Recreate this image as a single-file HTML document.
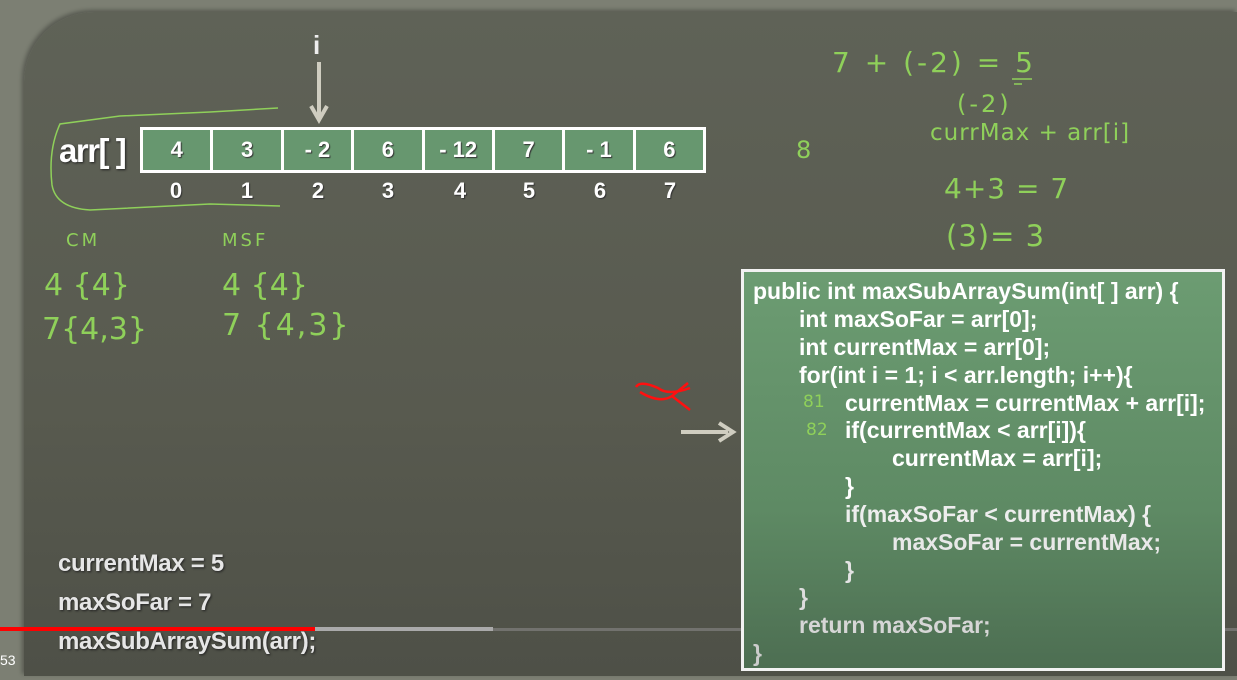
<!DOCTYPE html>
<html><head><meta charset="utf-8"><style>
html,body{margin:0;padding:0}
body{width:1237px;height:680px;overflow:hidden;background:#7c7f73;position:relative;font-family:"Liberation Sans",sans-serif}
#panel{position:absolute;left:24px;top:12px;width:1213px;height:664px;border-top-left-radius:70px;background:linear-gradient(180deg,#5f6257 0%,#585a4f 60%,#4e5047 100%);box-shadow:-2px -2px 4px rgba(0,0,0,.3)}
.t{position:absolute;color:#fff;font-weight:bold;white-space:nowrap}
.arr{position:absolute;left:140px;top:127px;width:566px;height:46px;background:#fff;display:flex;padding:3px;box-sizing:border-box;gap:3px}
.arr div{flex:1;background:#67976f;color:#fff;font-weight:bold;font-size:22px;display:flex;align-items:center;justify-content:center;text-shadow:1px 1px 1px #333}
.idx{position:absolute;top:178px;color:#fff;font-weight:bold;font-size:22px;width:40px;text-align:center;text-shadow:1px 1px 1px #333}
#code{position:absolute;left:741px;top:269px;width:484px;height:402px;box-sizing:border-box;border:3px solid #f2f2f2;background:linear-gradient(180deg,#6c9c72 0%,#5e8a64 60%,#4d6e52 100%)}
.c{position:absolute;color:#fff;font-weight:bold;font-size:23px;white-space:nowrap;line-height:26px}
.bl{position:absolute;left:58px;color:#e6e6e6;font-weight:bold;font-size:24px;letter-spacing:-0.3px;text-shadow:1px 1px 2px #222}
.hw{position:absolute;color:#8fd05a;font-family:"DejaVu Sans",sans-serif;font-weight:normal;white-space:nowrap}
</style></head><body>
<div id="panel"></div>
<div class="t" style="left:59px;top:132px;font-size:33px;letter-spacing:-1.5px;text-shadow:1px 1px 2px #222">arr[ ]</div>
<div class="arr"><div>4</div><div>3</div><div>- 2</div><div>6</div><div>- 12</div><div>7</div><div>- 1</div><div>6</div></div>
<div class="idx" style="left:156px">0</div><div class="idx" style="left:227px">1</div><div class="idx" style="left:298px">2</div><div class="idx" style="left:368px">3</div><div class="idx" style="left:440px">4</div><div class="idx" style="left:509px">5</div><div class="idx" style="left:580px">6</div><div class="idx" style="left:650px">7</div>
<div class="t" style="left:313px;top:30px;font-size:26px;color:#eee">i</div>
<svg width="1237" height="680" style="position:absolute;left:0;top:0">
<line x1="319" y1="62" x2="319" y2="118" stroke="#cfcdc0" stroke-width="4"/>
<path d="M311 106 L319 120 L327 106" fill="none" stroke="#cfcdc0" stroke-width="4"/>
<line x1="681" y1="432" x2="728" y2="432" stroke="#cfcdc0" stroke-width="4"/>
<path d="M719 423 L733 432 L719 441" fill="none" stroke="#cfcdc0" stroke-width="4"/>
<path d="M278 108 L210 112 L120 116 L60 124 Q48 150 52 185 Q56 208 90 210 L210 204 L280 206" fill="none" stroke="#8fd05a" stroke-width="1.5"/>
<path d="M636 387 Q640 380 658 388 Q668 396 690 388 M640 392 Q660 404 672 396 L690 410 M672 396 L688 383" fill="none" stroke="#ff1010" stroke-width="2.5"/>
<path d="M1080 310 Q1110 306 1156 303" fill="none" stroke="#8fd05a" stroke-width="1.5"/>
<path d="M1000 389 Q988 400 996 416 M1200 384 Q1215 400 1202 418 M872 420 Q862 432 872 448 M1070 416 Q1080 426 1082 448" fill="none" stroke="#8fd05a" stroke-width="1.5"/>
<path d="M918 476 L934 475 M914 481 L932 480 M1052 473 L1072 473 M1054 479 L1073 479 M1012 79 L1032 79 M1014 84 L1022 84" fill="none" stroke="#8fd05a" stroke-width="1.5"/>
<rect x="0" y="627" width="493" height="4" fill="#aaa"/>
<rect x="493" y="628" width="744" height="3" fill="#888" opacity=".6"/>
<rect x="0" y="627" width="315" height="4" fill="#f00"/>
</svg>
<div class="hw" style="left:832px;top:46px;font-size:28px;letter-spacing:3px">7 + (-2) = 5</div>
<div class="hw" style="left:957px;top:90px;font-size:24px;letter-spacing:3px">(-2)</div>
<div class="hw" style="left:796px;top:136px;font-size:24px">8</div>
<div class="hw" style="left:930px;top:120px;font-size:23px;letter-spacing:1px">currMax + arr[i]</div>
<div class="hw" style="left:944px;top:172px;font-size:28px;letter-spacing:1px">4+3 = 7</div>
<div class="hw" style="left:946px;top:219px;font-size:29px;letter-spacing:1px">(3)= 3</div>
<div class="hw" style="left:66px;top:230px;font-size:18px;letter-spacing:3px">CM</div>
<div class="hw" style="left:222px;top:230px;font-size:18px;letter-spacing:3px">MSF</div>
<div class="hw" style="left:44px;top:268px;font-size:30px">4 {4}</div>
<div class="hw" style="left:222px;top:268px;font-size:30px">4 {4}</div>
<div class="hw" style="left:42px;top:312px;font-size:30px">7{4,3}</div>
<div class="hw" style="left:222px;top:308px;font-size:30px;letter-spacing:2px">7 {4,3}</div>
<div class="bl" style="top:550px">currentMax = 5</div>
<div class="bl" style="top:589px">maxSoFar = 7</div>
<div class="bl" style="top:628px">maxSubArraySum(arr);</div>
<div class="t" style="left:0;top:652px;font-size:14px;font-weight:normal">53</div>
<div id="code"></div>
<div class="c" style="left:753px;top:278px">public int maxSubArraySum(int[ ] arr) {</div>
<div class="c" style="left:799px;top:306px">int maxSoFar = arr[0];</div>
<div class="c" style="left:799px;top:334px">int currentMax = arr[0];</div>
<div class="c" style="left:799px;top:362px">for(int i = 1; i &lt; arr.length; i++){</div>
<div class="c" style="left:845px;top:390px">currentMax = currentMax + arr[i];</div>
<div class="c" style="left:845px;top:417px">if(currentMax &lt; arr[i]){</div>
<div class="c" style="left:892px;top:445px">currentMax = arr[i];</div>
<div class="c" style="left:845px;top:473px">}</div>
<div class="c" style="left:845px;top:501px;color:#eee">if(maxSoFar &lt; currentMax) {</div>
<div class="c" style="left:892px;top:529px;color:#e8e8e8">maxSoFar = currentMax;</div>
<div class="c" style="left:845px;top:557px;color:#e4e4e4">}</div>
<div class="c" style="left:799px;top:584px;color:#ddd">}</div>
<div class="c" style="left:799px;top:612px;color:#d6d6d6">return maxSoFar;</div>
<div class="c" style="left:753px;top:640px;color:#ccc">}</div>
<div class="hw" style="left:803px;top:392px;font-size:17px">81</div>
<div class="hw" style="left:806px;top:420px;font-size:17px">82</div>
</body></html>
